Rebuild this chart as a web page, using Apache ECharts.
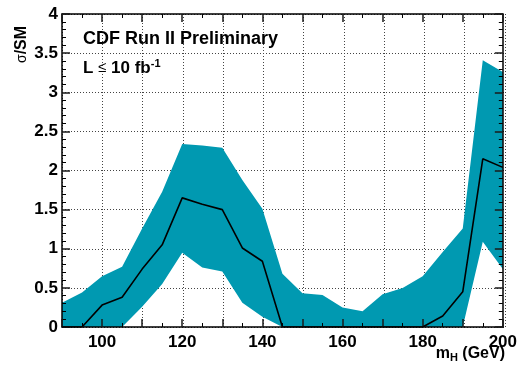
<!DOCTYPE html>
<html>
<head>
<meta charset="utf-8">
<script src="https://cdn.jsdelivr.net/npm/echarts@6/dist/echarts.min.js"></script>
<style>
  html, body { margin: 0; padding: 0; background: #fff; }
  #chart { width: 520px; height: 366px; }
</style>
</head>
<body>
<div id="chart"></div>
<script>
// Higgs mass points (GeV)
var mass = [90, 95, 100, 105, 110, 115, 120, 125, 130, 135, 140, 145, 150, 155, 160, 165, 170, 175, 180, 185, 190, 195, 200];
// central line, sigma/SM
var median = [0, 0, 0.28, 0.38, 0.74, 1.05, 1.65, 1.57, 1.50, 1.01, 0.84, 0, 0, 0, 0, 0, 0, 0, 0, 0.14, 0.45, 2.15, 2.04];
// band edges
var upper = [0.31, 0.44, 0.65, 0.77, 1.26, 1.73, 2.34, 2.32, 2.29, 1.88, 1.51, 0.68, 0.43, 0.41, 0.25, 0.20, 0.42, 0.50, 0.65, 0.96, 1.26, 3.41, 3.26];
var lower = [0, 0, 0, 0, 0.26, 0.55, 0.95, 0.76, 0.71, 0.31, 0.13, 0, 0, 0, 0, 0, 0, 0, 0, 0, 0, 1.09, 0.74];

var teal = '#0099b1';
var font = 'Liberation Sans';

function pairs(xs, ys) {
    return xs.map(function (x, i) { return [x, ys[i]]; });
}

var bandData = mass.map(function (x, i) { return [x, lower[i], upper[i]]; });

// whole band as one polygon: upper edge left->right, lower edge right->left
function renderBand(params, api) {
    if (params.dataIndex !== 0) return null;
    var pts = [];
    for (var i = 0; i < bandData.length; i++) pts.push(api.coord([bandData[i][0], bandData[i][2]]));
    for (var j = bandData.length - 1; j >= 0; j--) pts.push(api.coord([bandData[j][0], bandData[j][1]]));
    return {
        type: 'polygon',
        shape: { points: pts },
        style: { fill: teal, stroke: null }
    };
}

var gridRect = { left: 62, right: 15, top: 14, bottom: 39 };
var gridLine = { show: true, lineStyle: { color: '#444', type: [1, 2], width: 1 } };

function frame() { return { show: true, onZero: false, lineStyle: { color: '#000', width: 1.5 } }; }
function majorTick() { return { show: true, inside: true, length: 8, lineStyle: { color: '#1a1a1a', width: 1.5 } }; }
function minor(n) { return { show: true, splitNumber: n, length: 4, lineStyle: { color: '#000', width: 1 } }; }

var myChart = echarts.init(document.getElementById('chart'));
myChart.setOption({
    animation: false,
    grid: [
        Object.assign({}, gridRect),
        Object.assign({}, gridRect)
    ],
    xAxis: [
        {   // grid lines only, under the band
            gridIndex: 0, type: 'value', min: 90, max: 200, interval: 10, z: -3,
            axisLine: { show: false }, axisTick: { show: false }, axisLabel: { show: false },
            splitLine: gridLine
        },
        {   // bottom, labels + frame
            gridIndex: 1, type: 'value', min: 90, max: 200, interval: 10, position: 'bottom',
            axisLine: frame(), axisTick: majorTick(), minorTick: minor(2),
            axisLabel: {
                margin: 7, color: '#000', fontFamily: font, fontWeight: 'bold', fontSize: 17,
                formatter: function (v) { return v % 20 === 0 ? String(v) : ''; }
            },
            splitLine: { show: false }
        },
        {   // top mirror
            gridIndex: 1, type: 'value', min: 90, max: 200, interval: 10, position: 'top',
            axisLine: frame(), axisTick: majorTick(), minorTick: minor(2),
            axisLabel: { show: false },
            splitLine: { show: false }
        }
    ],
    yAxis: [
        {
            gridIndex: 0, type: 'value', min: 0, max: 4, interval: 0.5, z: -3,
            axisLine: { show: false }, axisTick: { show: false }, axisLabel: { show: false },
            splitLine: gridLine
        },
        {
            gridIndex: 1, type: 'value', min: 0, max: 4, interval: 0.5, position: 'left',
            axisLine: frame(), axisTick: majorTick(), minorTick: minor(5),
            axisLabel: { margin: 4, color: '#000', fontFamily: font, fontWeight: 'bold', fontSize: 17 },
            splitLine: { show: false }
        },
        {
            gridIndex: 1, type: 'value', min: 0, max: 4, interval: 0.5, position: 'right',
            axisLine: frame(), axisTick: majorTick(), minorTick: minor(5),
            axisLabel: { show: false },
            splitLine: { show: false }
        }
    ],
    series: [
        {
            name: 'band', type: 'custom', data: bandData, silent: true, z: -2,
            xAxisIndex: 1, yAxisIndex: 1,
            renderItem: renderBand,
            encode: { x: 0, y: [1, 2] }
        },
        {
            name: 'median', type: 'line', data: pairs(mass, median),
            xAxisIndex: 1, yAxisIndex: 1,
            showSymbol: false, silent: true, z: 5,
            lineStyle: { color: '#000', width: 1.6 }
        }
    ],
    graphic: [
        {
            type: 'text', left: 83, top: 30,
            style: { text: 'CDF Run II Preliminary', fill: '#000', font: 'bold 18px "Liberation Sans"' }
        },
        {
            type: 'text', left: 83, top: 58,
            style: {
                text: '{a|L }{le|≤}{a| 10 fb}{sup|-1}',
                rich: {
                    a: { fill: '#000', fontFamily: font, fontWeight: 'bold', fontSize: 17 },
                    le: { fill: '#000', fontFamily: font, fontSize: 15 },
                    sup: { fill: '#000', fontFamily: font, fontWeight: 'bold', fontSize: 11, padding: [0, 0, 9, 0] }
                }
            }
        },
        {
            type: 'text', x: 22, y: 63, rotation: Math.PI / 2,
            style: {
                text: '{s|σ}{a|/SM}', textAlign: 'left', textVerticalAlign: 'middle',
                rich: {
                    s: { fill: '#000', fontFamily: font, fontSize: 14 },
                    a: { fill: '#000', fontFamily: font, fontWeight: 'bold', fontSize: 16 }
                }
            }
        },
        {
            type: 'text', right: 15, top: 346,
            style: {
                text: '{a|m}{sub|H}{a| (GeV)}',
                rich: {
                    a: { fill: '#000', fontFamily: font, fontWeight: 'bold', fontSize: 16 },
                    sub: { fill: '#000', fontFamily: font, fontWeight: 'bold', fontSize: 11, padding: [7, 0, 0, 0] }
                }
            }
        }
    ]
});
</script>
</body>
</html>
